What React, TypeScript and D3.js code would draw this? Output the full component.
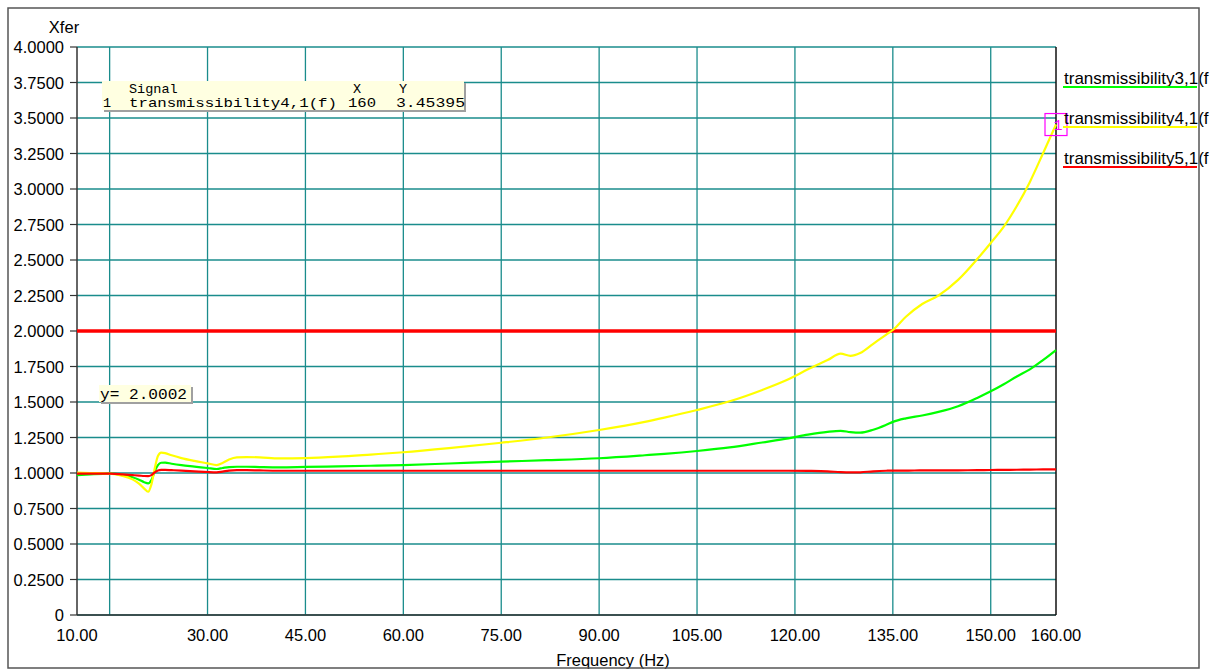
import React from "react";
import * as d3 from "d3";

const freqs = [10, 12, 15, 17, 18.5, 19.5, 20.3, 20.9, 21.4, 21.9, 22.4, 22.9, 23.5, 24.5, 26, 28, 30, 31.4, 32.3, 33.3, 34.5, 36, 38, 41, 45, 50, 55, 60, 67, 75, 82, 90, 97, 100, 105, 110, 115, 119, 122, 125, 127, 128.5, 130, 132, 134, 135, 137, 139.5, 142, 145, 148, 150, 152, 154, 156, 158, 160];

const trans3 = [0.985, 0.99, 0.995, 0.985, 0.97, 0.953, 0.935, 0.927, 0.95, 1.01, 1.055, 1.072, 1.073, 1.065, 1.055, 1.045, 1.035, 1.028, 1.035, 1.042, 1.044, 1.044, 1.042, 1.04, 1.043, 1.047, 1.051, 1.056, 1.067, 1.08, 1.09, 1.104, 1.125, 1.135, 1.155, 1.18, 1.215, 1.244, 1.27, 1.29, 1.297, 1.288, 1.284, 1.305, 1.34, 1.36, 1.385, 1.405, 1.43, 1.47, 1.53, 1.575, 1.625, 1.68, 1.73, 1.795, 1.866];

const trans4 = [1.003, 1.0, 0.995, 0.98, 0.955, 0.925, 0.89, 0.868, 0.92, 1.03, 1.12, 1.143, 1.14, 1.125, 1.105, 1.085, 1.068, 1.056, 1.07, 1.095, 1.11, 1.112, 1.11, 1.103, 1.105, 1.115, 1.13, 1.146, 1.175, 1.213, 1.25, 1.303, 1.36, 1.39, 1.444, 1.505, 1.585, 1.66, 1.73, 1.795, 1.84, 1.825, 1.845, 1.91, 1.975, 2.007, 2.1, 2.19, 2.25, 2.36, 2.51, 2.62, 2.735, 2.88, 3.05, 3.25, 3.454];

const trans5 = [0.995, 0.995, 0.995, 0.99, 0.985, 0.982, 0.979, 0.978, 0.985, 1.005, 1.018, 1.022, 1.022, 1.02, 1.017, 1.012, 1.007, 1.005, 1.01, 1.017, 1.02, 1.02, 1.018, 1.016, 1.016, 1.016, 1.016, 1.016, 1.016, 1.016, 1.016, 1.016, 1.016, 1.016, 1.016, 1.016, 1.016, 1.016, 1.015, 1.012, 1.006, 1.004, 1.005, 1.012, 1.016, 1.017, 1.017, 1.018, 1.018, 1.019, 1.02, 1.021, 1.022, 1.023, 1.024, 1.025, 1.026];

const seriesNames = ["transmissibility3,1(f", "transmissibility4,1(f", "transmissibility5,1(f"];
const seriesColors = ["#00ff00", "#ffff00", "#ff0000"];

const xTickValues = [10, 30, 45, 60, 75, 90, 105, 120, 135, 150, 160];
const xGridValues = [15, 30, 45, 60, 75, 90, 105, 120, 135, 150];
const yTickValues = [0, 0.25, 0.5, 0.75, 1, 1.25, 1.5, 1.75, 2, 2.25, 2.5, 2.75, 3, 3.25, 3.5, 3.75, 4];

const thresholdY = 2.0002;
const cursorX = 160;
const cursorY = 3.45395;

export default function App() {
  const left = 77, right = 1056, top = 47, bottom = 615;
  const x = d3.scaleLinear().domain([10, 160]).range([left, right]);
  const y = d3.scaleLinear().domain([0, 4]).range([bottom, top]);
  const line = d3
    .line<number>()
    .x((_, i) => x(freqs[i]))
    .y((d) => y(d))
    .curve(d3.curveMonotoneX);
  const series = [trans3, trans4, trans5];
  const sans = "'Liberation Sans', Arial, sans-serif";
  const mono = "'Liberation Mono', 'DejaVu Sans Mono', monospace";
  const grid = "#1a8c8c";
  const cx = x(cursorX), cy = y(cursorY);

  return (
    <svg width={1220} height={671} style={{ position: "absolute", left: 0, top: 0 }}>
      <rect x={0} y={0} width={1220} height={671} fill="#ffffff" />
      {yTickValues.map((v) => (
        <line key={"gy" + v} x1={left} x2={right} y1={y(v)} y2={y(v)} stroke={grid} strokeWidth={1.4} />
      ))}
      {xGridValues.map((v) => (
        <line key={"gx" + v} x1={x(v)} x2={x(v)} y1={top} y2={bottom} stroke={grid} strokeWidth={1.3} />
      ))}
      <line x1={left} x2={left} y1={top} y2={bottom} stroke="#333" strokeWidth={1.5} />
      <line x1={left} x2={right} y1={bottom} y2={bottom} stroke="#333" strokeWidth={1.5} />
      <line x1={right} x2={right} y1={top} y2={bottom} stroke="#111" strokeWidth={1.5} />
      {yTickValues.map((v) => (
        <g key={"ty" + v}>
          <line x1={left - 7} x2={left} y1={y(v)} y2={y(v)} stroke="#333" strokeWidth={1.2} />
          <text x={64} y={y(v) + 6} textAnchor="end" fontFamily={sans} fontSize={16.5} fill="#000">
            {v === 0 ? "0" : d3.format(".4f")(v)}
          </text>
        </g>
      ))}
      {xTickValues.map((v) => (
        <text key={"tx" + v} x={x(v)} y={641} textAnchor="middle" fontFamily={sans} fontSize={16.5} fill="#000">
          {d3.format(".2f")(v)}
        </text>
      ))}
      <text x={64} y={33} textAnchor="middle" fontFamily={sans} fontSize={16.5} fill="#000">Xfer</text>
      <text x={613} y={666} textAnchor="middle" fontFamily={sans} fontSize={16.5} fill="#000">Frequency (Hz)</text>
      <line x1={left} x2={right} y1={y(thresholdY)} y2={y(thresholdY)} stroke="#ff0000" strokeWidth={3.5} />
      {series.map((s, i) => (
        <path key={"s" + i} d={line(s) || ""} fill="none" stroke={seriesColors[i]} strokeWidth={2.2} />
      ))}
      <rect x={cx - 11} y={cy - 11} width={22} height={22} fill="none" stroke="#ff00ff" strokeWidth={1.2} />
      <text x={cx + 2} y={cy + 5} textAnchor="middle" fontFamily={mono} fontSize={15} fill="#ff00ff">1</text>
      {seriesNames.map((n, i) => (
        <g key={"lg" + i}>
          <text x={1064} y={84 + i * 40} fontFamily={sans} fontSize={17} fill="#000">{n}</text>
          <line x1={1063} x2={1197} y1={87 + i * 40} y2={87 + i * 40} stroke={seriesColors[i]} strokeWidth={2} />
        </g>
      ))}
      <rect x={104} y={83} width={362} height={29} fill="#a0a0a0" />
      <rect x={102} y={81} width={362} height={29} fill="#ffffe1" />
      <g fontFamily={mono} fontSize={13.5} fill="#000">
        <text x={129} y={93}>Signal</text>
        <text x={353} y={93}>X</text>
        <text x={399} y={93}>Y</text>
        <text x={103} y={107}>1</text>
        <text x={129} y={107} textLength={208} lengthAdjust="spacingAndGlyphs">{seriesNames[1] + ")"}</text>
        <text x={348} y={107} textLength={28} lengthAdjust="spacingAndGlyphs">{String(cursorX)}</text>
        <text x={396} y={107} textLength={69} lengthAdjust="spacingAndGlyphs">{String(cursorY)}</text>
      </g>
      <rect x={101} y={387} width={92} height={17} fill="#a0a0a0" />
      <rect x={99} y={385} width={92} height={17} fill="#ffffe1" />
      <text x={100} y={399} fontFamily={mono} fontSize={14} fill="#000" textLength={87} lengthAdjust="spacingAndGlyphs">{"y=  " + thresholdY.toFixed(4)}</text>
      <rect x={8} y={8} width={1191} height={660} fill="none" stroke="#555" strokeWidth={1.5} />
    </svg>
  );
}
